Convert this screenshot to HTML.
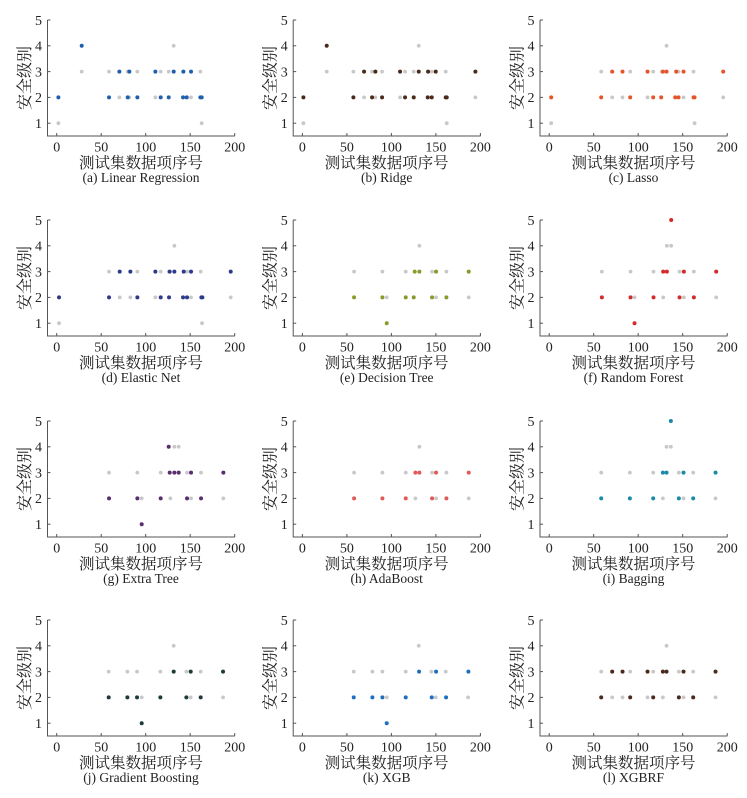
<!DOCTYPE html>
<html><head><meta charset="utf-8"><style>
html,body{margin:0;padding:0;background:#fff;}
svg text{font-family:"Liberation Serif","Noto Serif CJK SC",serif;fill:#222;}
</style></head><body>
<svg id="s" width="747" height="793" xmlns="http://www.w3.org/2000/svg"></svg>
<script>
const P=[
{c:0,r:0,z0:170,col:"#1f5fae",cap:"(a) Linear Regression",
 p:{2:[175,327,383,412,482,506,549,560,601,605],3:[358,388,466,521,550,573],4:[245]},
 g:{1:[175,605],3:[245,327,383,412,482,506,601],2:[358,388,466,573],4:[521]}},
{c:1,r:0,z0:37,col:"#4a2a1a",cap:"(b) Ridge",
 p:{2:[40,190,246,276,345,371,413,425,467,470],3:[222,256,330,386,414,437,556],4:[110]},
 g:{1:[40,470],2:[222,256,330,556],3:[110,190,246,276,345,371,425,467],4:[386]}},
{c:2,r:0,z0:42,col:"#e8542a",cap:"(c) Lasso",
 p:{2:[48,198,285,354,378,420,430,475,478],3:[231,262,337,383,394,423,445,564]},
 g:{1:[48,478],2:[231,262,337,445,564],3:[198,285,354,380,430,475],4:[394]}},
{c:0,r:1,z0:35,col:"#2d3a8c",cap:"(d) Elastic Net",
 p:{2:[42,192,277,347,372,414,426,469,472],3:[224,256,331,374,388,416,438,557]},
 g:{1:[42,471],2:[224,256,331,438,557],3:[192,277,347,372,426,467],4:[388]}},
{c:1,r:1,z0:37,col:"#8a9a2a",cap:"(e) Decision Tree",
 p:{2:[192,277,347,371,426,469],3:[374,388,438,536],1:[290]},
 g:{3:[192,277,347,426,469],2:[290,438,536],4:[388]}},
{c:2,r:1,z0:176,col:"#d42a2a",cap:"(f) Random Forest",
 p:{2:[334,420,489,567,610],3:[518,529,580,677],1:[432],5:[542]},
 g:{3:[334,420,489,567,610],2:[432,518,580,677],4:[529,542]}},
{c:0,r:2,z0:35,col:"#5a2d6e",cap:"(g) Extra Tree",
 p:{2:[192,277,347,426,468],3:[374,388,401,438,535],4:[371],1:[290]},
 g:{3:[192,277,347,426,468],2:[290,376,438,535],4:[388,401]}},
{c:1,r:2,z0:37,col:"#e05a5a",cap:"(h) AdaBoost",
 p:{2:[192,277,347,426,469],3:[376,388,438,536]},
 g:{3:[192,277,347,426,469],2:[376,438,536],4:[388]}},
{c:2,r:2,z0:42,col:"#1a8aa8",cap:"(i) Bagging",
 p:{2:[198,284,354,431,474],3:[383,394,445,541],5:[407]},
 g:{3:[198,284,354,431,474],2:[383,445,541],4:[394,407]}},
{c:0,r:3,z0:35,col:"#1e3a3a",cap:"(j) Gradient Boosting",
 p:{2:[191,247,276,346,424,467],3:[386,437,534],1:[290]},
 g:{3:[191,247,276,346,424,467],2:[290,437,534],4:[386]}},
{c:1,r:3,z0:37,col:"#1f6fc0",cap:"(k) XGB",
 p:{2:[191,247,277,347,425,468],3:[387,438,535],1:[290]},
 g:{3:[191,247,277,347,424,467],2:[290,437,534],4:[386]}},
{c:2,r:3,z0:42,col:"#4a2a1a",cap:"(l) XGBRF",
 p:{2:[198,285,354,431,474],3:[231,262,337,383,394,445,541]},
 g:{3:[198,285,354,431,474],2:[231,262,337,383,445,541],4:[394]}}
];
const CX=[0,245.7,492.5],RY=[0,200,401,600];
let h="";
const Y=v=>20+(5-v)*25.8;
for(const q of P){
 const ox=CX[q.c],oy=RY[q.r];
 h+=`<g transform="translate(${ox},${oy})">`;
 h+=`<path d="M47.5,20V136H235" fill="none" stroke="#555" stroke-width="1"/>`;
 for(let v=1;v<=5;v++){h+=`<path d="M47.5,${Y(v)}h3" stroke="#555"/><text x="42" y="${Y(v)+4.8}" font-size="14" text-anchor="end">${v}</text>`;}
 for(let i=0;i<=4;i++){const x=56.7+i*44.5;h+=`<path d="M${x},136v-3" stroke="#555"/><text x="${x}" y="151.5" font-size="14" text-anchor="middle">${i*50}</text>`;}
 h+=`<text x="141" y="168" font-size="15.5" text-anchor="middle">测试集数据项序号</text>`;
 h+=`<text x="141" y="182" font-size="13.5" text-anchor="middle">${q.cap}</text>`;
 h+=`<text transform="translate(30,78) rotate(-90)" font-size="16" text-anchor="middle">安全级别</text>`;
 for(const v in q.g)for(const z of q.g[v])h+=`<circle cx="${56.7+(z-q.z0)/3}" cy="${Y(+v)}" r="1.9" fill="#c8c8c8"/>`;
 for(const v in q.p)for(const z of q.p[v])h+=`<circle cx="${56.7+(z-q.z0)/3}" cy="${Y(+v)}" r="2" fill="${q.col}"/>`;
 h+=`</g>`;
}
document.getElementById("s").innerHTML=h;
</script>
</body></html>
